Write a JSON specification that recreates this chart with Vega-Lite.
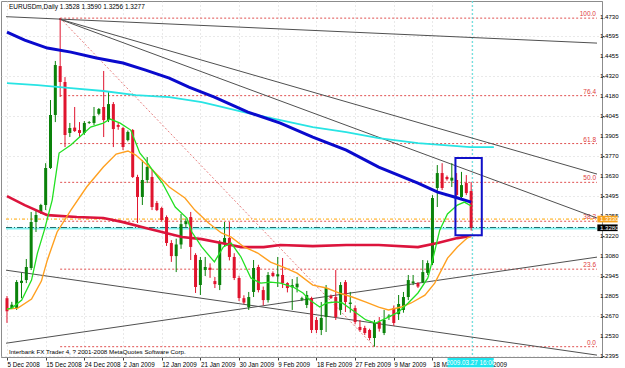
{
  "$schema": "https://vega.github.io/schema/vega-lite/v6.json",
  "width": 601,
  "height": 356,
  "autosize": {"type": "none"},
  "padding": {"left": 1, "top": 1, "right": 23, "bottom": 11},
  "background": "#ffffff",
  "config": {"view": {"stroke": "#8c8c8c"}, "font": "Liberation Sans", "axis": {"labelOverlap": false}},
  "datasets": {
    "candles": [
      {"i":0,"o":1.2790,"h":1.2805,"l":1.2620,"c":1.2700},
      {"i":1,"o":1.2720,"h":1.2765,"l":1.2715,"c":1.2745},
      {"i":2,"o":1.2722,"h":1.2915,"l":1.2709,"c":1.2901},
      {"i":3,"o":1.2895,"h":1.2964,"l":1.2790,"c":1.2910},
      {"i":4,"o":1.2915,"h":1.3060,"l":1.2894,"c":1.3005},
      {"i":5,"o":1.2998,"h":1.3384,"l":1.2984,"c":1.3315},
      {"i":6,"o":1.3315,"h":1.3397,"l":1.3246,"c":1.3363},
      {"i":7,"o":1.3377,"h":1.3440,"l":1.3370,"c":1.3432},
      {"i":8,"o":1.3432,"h":1.3720,"l":1.3397,"c":1.3687},
      {"i":9,"o":1.3687,"h":1.4155,"l":1.3680,"c":1.4052},
      {"i":10,"o":1.4052,"h":1.4424,"l":1.4003,"c":1.4396},
      {"i":11,"o":1.4389,"h":1.4719,"l":1.4176,"c":1.4279},
      {"i":12,"o":1.4279,"h":1.4313,"l":1.3831,"c":1.3914},
      {"i":13,"o":1.3928,"h":1.3997,"l":1.3900,"c":1.3962},
      {"i":14,"o":1.3965,"h":1.4107,"l":1.3935,"c":1.3941},
      {"i":15,"o":1.3948,"h":1.4003,"l":1.3900,"c":1.3928},
      {"i":16,"o":1.3928,"h":1.4010,"l":1.3915,"c":1.3997},
      {"i":17,"o":1.3997,"h":1.4010,"l":1.3990,"c":1.4003},
      {"i":18,"o":1.3997,"h":1.4107,"l":1.3983,"c":1.4045},
      {"i":19,"o":1.4060,"h":1.4100,"l":1.4050,"c":1.4093},
      {"i":20,"o":1.4107,"h":1.4355,"l":1.3900,"c":1.4017},
      {"i":21,"o":1.4017,"h":1.4210,"l":1.4003,"c":1.4127},
      {"i":22,"o":1.4127,"h":1.4141,"l":1.3831,"c":1.3955},
      {"i":23,"o":1.3983,"h":1.3997,"l":1.3950,"c":1.3970},
      {"i":24,"o":1.3962,"h":1.3970,"l":1.3810,"c":1.3831},
      {"i":25,"o":1.3879,"h":1.3945,"l":1.3870,"c":1.3935},
      {"i":26,"o":1.3948,"h":1.3955,"l":1.3618,"c":1.3625},
      {"i":27,"o":1.3625,"h":1.3640,"l":1.3308,"c":1.3487},
      {"i":28,"o":1.3487,"h":1.3742,"l":1.3432,"c":1.3604},
      {"i":29,"o":1.3604,"h":1.3762,"l":1.3583,"c":1.3694},
      {"i":30,"o":1.3625,"h":1.3673,"l":1.3397,"c":1.3418},
      {"i":31,"o":1.3446,"h":1.3460,"l":1.3390,"c":1.3397},
      {"i":32,"o":1.3411,"h":1.3420,"l":1.3320,"c":1.3329},
      {"i":33,"o":1.3349,"h":1.3360,"l":1.3150,"c":1.3170},
      {"i":34,"o":1.3170,"h":1.3190,"l":1.3040,"c":1.3080},
      {"i":35,"o":1.3080,"h":1.3200,"l":1.2970,"c":1.3160},
      {"i":36,"o":1.3160,"h":1.3370,"l":1.3130,"c":1.3300},
      {"i":37,"o":1.3300,"h":1.3340,"l":1.3280,"c":1.3320},
      {"i":38,"o":1.3349,"h":1.3384,"l":1.3053,"c":1.3143},
      {"i":39,"o":1.3088,"h":1.3100,"l":1.2826,"c":1.2867},
      {"i":40,"o":1.2881,"h":1.3074,"l":1.2812,"c":1.3053},
      {"i":41,"o":1.2984,"h":1.3074,"l":1.2943,"c":1.3005},
      {"i":42,"o":1.3000,"h":1.3030,"l":1.2930,"c":1.2985},
      {"i":43,"o":1.2908,"h":1.2936,"l":1.2860,"c":1.2887},
      {"i":44,"o":1.2881,"h":1.3190,"l":1.2846,"c":1.3170},
      {"i":45,"o":1.3170,"h":1.3315,"l":1.3143,"c":1.3205},
      {"i":46,"o":1.3205,"h":1.3315,"l":1.3050,"c":1.3074},
      {"i":47,"o":1.3074,"h":1.3100,"l":1.2915,"c":1.2929},
      {"i":48,"o":1.2929,"h":1.2945,"l":1.2770,"c":1.2791},
      {"i":49,"o":1.2790,"h":1.2810,"l":1.2750,"c":1.2760},
      {"i":50,"o":1.2729,"h":1.2833,"l":1.2709,"c":1.2798},
      {"i":51,"o":1.2833,"h":1.3053,"l":1.2798,"c":1.2998},
      {"i":52,"o":1.3005,"h":1.3020,"l":1.2830,"c":1.2846},
      {"i":53,"o":1.2846,"h":1.2870,"l":1.2740,"c":1.2777},
      {"i":54,"o":1.2777,"h":1.2970,"l":1.2760,"c":1.2950},
      {"i":55,"o":1.2964,"h":1.2975,"l":1.2935,"c":1.2943},
      {"i":56,"o":1.2940,"h":1.3074,"l":1.2867,"c":1.2955},
      {"i":57,"o":1.2950,"h":1.3067,"l":1.2860,"c":1.2894},
      {"i":58,"o":1.2894,"h":1.2900,"l":1.2830,"c":1.2860},
      {"i":59,"o":1.2865,"h":1.2922,"l":1.2709,"c":1.2880},
      {"i":60,"o":1.2865,"h":1.2936,"l":1.2830,"c":1.2890},
      {"i":61,"o":1.2780,"h":1.2800,"l":1.2770,"c":1.2790},
      {"i":62,"o":1.2743,"h":1.2840,"l":1.2722,"c":1.2812},
      {"i":63,"o":1.2791,"h":1.2800,"l":1.2550,"c":1.2571},
      {"i":64,"o":1.2640,"h":1.2660,"l":1.2550,"c":1.2571},
      {"i":65,"o":1.2571,"h":1.2764,"l":1.2536,"c":1.2654},
      {"i":66,"o":1.2660,"h":1.2881,"l":1.2557,"c":1.2860},
      {"i":67,"o":1.2805,"h":1.2815,"l":1.2785,"c":1.2790},
      {"i":68,"o":1.2798,"h":1.2984,"l":1.2640,"c":1.2660},
      {"i":69,"o":1.2709,"h":1.2901,"l":1.2675,"c":1.2881},
      {"i":70,"o":1.2901,"h":1.2915,"l":1.2695,"c":1.2764},
      {"i":71,"o":1.2750,"h":1.2833,"l":1.2690,"c":1.2760},
      {"i":72,"o":1.2722,"h":1.2740,"l":1.2610,"c":1.2626},
      {"i":73,"o":1.2592,"h":1.2640,"l":1.2560,"c":1.2571},
      {"i":74,"o":1.2585,"h":1.2600,"l":1.2536,"c":1.2550},
      {"i":75,"o":1.2571,"h":1.2580,"l":1.2500,"c":1.2516},
      {"i":76,"o":1.2516,"h":1.2640,"l":1.2456,"c":1.2619},
      {"i":77,"o":1.2626,"h":1.2660,"l":1.2560,"c":1.2580},
      {"i":78,"o":1.2550,"h":1.2709,"l":1.2536,"c":1.2640},
      {"i":79,"o":1.2660,"h":1.2680,"l":1.2640,"c":1.2670},
      {"i":80,"o":1.2722,"h":1.2740,"l":1.2600,"c":1.2619},
      {"i":81,"o":1.2680,"h":1.2812,"l":1.2640,"c":1.2750},
      {"i":82,"o":1.2709,"h":1.2833,"l":1.2690,"c":1.2798},
      {"i":83,"o":1.2798,"h":1.2950,"l":1.2777,"c":1.2915},
      {"i":84,"o":1.2895,"h":1.2950,"l":1.2880,"c":1.2905},
      {"i":85,"o":1.2894,"h":1.2900,"l":1.2860,"c":1.2870},
      {"i":86,"o":1.2901,"h":1.3053,"l":1.2894,"c":1.2970},
      {"i":87,"o":1.2964,"h":1.3050,"l":1.2950,"c":1.3032},
      {"i":88,"o":1.3032,"h":1.3500,"l":1.3018,"c":1.3480},
      {"i":89,"o":1.3549,"h":1.3707,"l":1.3418,"c":1.3652},
      {"i":90,"o":1.3652,"h":1.3720,"l":1.3535,"c":1.3549},
      {"i":91,"o":1.3625,"h":1.3635,"l":1.3600,"c":1.3610},
      {"i":92,"o":1.3600,"h":1.3720,"l":1.3556,"c":1.3620},
      {"i":93,"o":1.3604,"h":1.3652,"l":1.3480,"c":1.3501},
      {"i":94,"o":1.3487,"h":1.3660,"l":1.3466,"c":1.3569},
      {"i":95,"o":1.3583,"h":1.3638,"l":1.3500,"c":1.3514},
      {"i":96,"o":1.3528,"h":1.3590,"l":1.3256,"c":1.3277}
    ],
    "ma_green": [
      {"i":0,"p":1.2715},{"i":1.0,"p":1.2722},{"i":3.05,"p":1.2777},{"i":5.08,"p":1.2915},{"i":6.3,"p":1.3101},{"i":7.73,"p":1.3259},{"i":9.35,"p":1.3466},{"i":10.78,"p":1.3790},{"i":13.2,"p":1.3845},{"i":15.25,"p":1.3907},{"i":17.3,"p":1.3969},{"i":19.93,"p":1.3996},{"i":21.36,"p":1.4024},{"i":23.4,"p":1.3996},{"i":25.6,"p":1.3948},{"i":27.46,"p":1.3790},{"i":28.68,"p":1.3741},{"i":30.1,"p":1.3673},{"i":32.15,"p":1.3583},{"i":34.8,"p":1.3418},{"i":37.2,"p":1.3342},{"i":38.24,"p":1.3246},{"i":40.27,"p":1.3143},{"i":42.9,"p":1.3040},{"i":44.75,"p":1.3143},{"i":46.37,"p":1.3170},{"i":48.4,"p":1.3074},{"i":50.44,"p":1.2929},{"i":52.47,"p":1.2894},{"i":54.5,"p":1.2901},{"i":56.54,"p":1.2894},{"i":59.19,"p":1.2867},{"i":61.22,"p":1.2826},{"i":62.64,"p":1.2777},{"i":64.68,"p":1.2729},{"i":66.1,"p":1.2757},{"i":68.14,"p":1.2764},{"i":69.36,"p":1.2757},{"i":71.39,"p":1.2709},{"i":74.24,"p":1.2640},{"i":76.27,"p":1.2619},{"i":78.9,"p":1.2660},{"i":80.95,"p":1.2694},{"i":82.98,"p":1.2757},{"i":85.0,"p":1.2826},{"i":87.05,"p":1.2930},{"i":88.27,"p":1.3087},{"i":89.5,"p":1.3259},{"i":91.1,"p":1.3370},{"i":93.15,"p":1.3431},{"i":94.6,"p":1.3452},{"i":96,"p":1.3425}
    ],
    "ma_orange": [
      {"i":0,"p":1.2715},{"i":2.24,"p":1.2722},{"i":5.08,"p":1.2784},{"i":7.12,"p":1.2908},{"i":8.34,"p":1.3052},{"i":10.37,"p":1.3246},{"i":13.22,"p":1.3397},{"i":16.47,"p":1.3556},{"i":19.93,"p":1.3693},{"i":22.58,"p":1.3783},{"i":25.02,"p":1.3804},{"i":26.64,"p":1.3776},{"i":30.1,"p":1.3673},{"i":33.56,"p":1.3556},{"i":36.81,"p":1.3480},{"i":38.85,"p":1.3397},{"i":41.7,"p":1.3308},{"i":44.34,"p":1.3239},{"i":46.37,"p":1.3211},{"i":49.02,"p":1.3143},{"i":51.86,"p":1.3101},{"i":54.51,"p":1.3039},{"i":57.15,"p":1.3004},{"i":60.0,"p":1.2963},{"i":63.25,"p":1.2880},{"i":66.1,"p":1.2860},{"i":68.75,"p":1.2825},{"i":71.39,"p":1.2798},{"i":74.24,"p":1.2763},{"i":76.88,"p":1.2729},{"i":78.9,"p":1.2709},{"i":81.56,"p":1.2729},{"i":83.59,"p":1.2757},{"i":86.44,"p":1.2811},{"i":88.47,"p":1.2894},{"i":91.12,"p":1.3066},{"i":93.15,"p":1.3142},{"i":95.19,"p":1.3204},{"i":96,"p":1.3218}
    ],
    "ma_red": [
      {"i":0,"p":1.3493},{"i":3.66,"p":1.3431},{"i":8.34,"p":1.3362},{"i":14.44,"p":1.3349},{"i":19.93,"p":1.3342},{"i":24.0,"p":1.3314},{"i":28.68,"p":1.3273},{"i":36.2,"p":1.3211},{"i":40.27,"p":1.3197},{"i":44.34,"p":1.3170},{"i":48.4,"p":1.3142},{"i":53.08,"p":1.3142},{"i":56.54,"p":1.3156},{"i":63.25,"p":1.3149},{"i":70.17,"p":1.3156},{"i":76.88,"p":1.3156},{"i":85.0,"p":1.3142},{"i":89.08,"p":1.3170},{"i":93.15,"p":1.3204},{"i":96,"p":1.3218}
    ],
    "ma_blue": [
      {"i":0,"p":1.4623},{"i":3.66,"p":1.4568},{"i":8.34,"p":1.4513},{"i":13.22,"p":1.4485},{"i":18.5,"p":1.4444},{"i":24.0,"p":1.4410},{"i":28.68,"p":1.4361},{"i":33.56,"p":1.4306},{"i":37.63,"p":1.4244},{"i":42.9,"p":1.4175},{"i":49.83,"p":1.4072},{"i":56.54,"p":1.3996},{"i":63.25,"p":1.3900},{"i":70.17,"p":1.3810},{"i":76.88,"p":1.3693},{"i":85.0,"p":1.3583},{"i":89.08,"p":1.3521},{"i":92.54,"p":1.3487},{"i":96,"p":1.3452}
    ],
    "ma_cyan": [
      {"i":0,"p":1.4272},{"i":6.3,"p":1.4258},{"i":13.22,"p":1.4237},{"i":19.93,"p":1.4217},{"i":26.64,"p":1.4189},{"i":33.56,"p":1.4175},{"i":40.27,"p":1.4141},{"i":42.9,"p":1.4120},{"i":49.83,"p":1.4065},{"i":56.54,"p":1.4017},{"i":63.25,"p":1.3969},{"i":70.17,"p":1.3934},{"i":76.88,"p":1.3893},{"i":85.0,"p":1.3858},{"i":95.8,"p":1.3831},{"i":100.7,"p":1.3831}
    ],
    "trend": [
      {"id":"t1","i":-0.2,"p":1.4729},{"id":"t1","i":122.03,"p":1.4547},
      {"id":"t2","i":10.78,"p":1.4713},{"id":"t2","i":122.03,"p":1.3645},
      {"id":"t3","i":10.78,"p":1.4713},{"id":"t3","i":122.03,"p":1.3342},
      {"id":"t4","i":-0.2,"p":1.2480},{"id":"t4","i":122.03,"p":1.3073},
      {"id":"t5","i":-0.2,"p":1.2983},{"id":"t5","i":122.03,"p":1.2398}
    ],
    "fibdiag": [{"i":11,"p":1.4719},{"i":76,"p":1.2456}],
    "fib": [
      {"level":"100.0","p":1.4719},
      {"level":"76.4","p":1.4185},
      {"level":"61.8","p":1.3855},
      {"level":"50.0","p":1.3588},
      {"level":"38.2","p":1.3320},
      {"level":"23.6","p":1.2990},
      {"level":"0.0","p":1.2456}
    ],
    "yticks": [
      {"v":1.4730},{"v":1.4595},{"v":1.4455},{"v":1.4320},{"v":1.4180},{"v":1.4045},{"v":1.3905},{"v":1.3770},{"v":1.3630},{"v":1.3495},{"v":1.3355},{"v":1.3220},{"v":1.3080},{"v":1.2945},{"v":1.2805},{"v":1.2670},{"v":1.2530},{"v":1.2395}
    ]
  },
  "layer": [
    {
      "data": {"name": "fib"},
      "mark": {"type": "rule", "color": "#E05050", "strokeDash": [2, 2], "strokeWidth": 1},
      "encoding": {
        "x": {"datum": 11, "type": "quantitative", "scale": {"domain": [-0.2034, 122.03], "nice": false, "zero": false},
          "axis": {"orient": "bottom", "values": [0, 8, 16, 24, 32, 40, 48, 56, 64, 72, 80, 88, 96], "labelExpr": "datum.value == 0 ? '5 Dec 2008' : datum.value == 8 ? '15 Dec 2008' : datum.value == 16 ? '24 Dec 2008' : datum.value == 24 ? '2 Jan 2009' : datum.value == 32 ? '12 Jan 2009' : datum.value == 40 ? '21 Jan 2009' : datum.value == 48 ? '30 Jan 2009' : datum.value == 56 ? '9 Feb 2009' : datum.value == 64 ? '18 Feb 2009' : datum.value == 72 ? '27 Feb 2009' : datum.value == 80 ? '9 Mar 2009' : datum.value == 88 ? '18 Mar 2009' : '27 Mar 2009'", "labelAlign": "left", "labelFontSize": 6.3, "labelColor": "#000000", "labelPadding": 1, "labelFlush": false, "labelOverlap": false, "labelBound": false, "tickSize": 3, "tickColor": "#404040", "domainColor": "#8c8c8c", "grid": true, "gridColor": "#c8c8c8", "gridDash": [1, 3], "gridOpacity": 0.8, "title": null}},
        "x2": {"datum": 122.03},
        "y": {"field": "p", "type": "quantitative", "scale": {"domain": [1.2385, 1.4837], "nice": false, "zero": false},
          "axis": {"orient": "right", "values": [1.4730, 1.4595, 1.4455, 1.4320, 1.4180, 1.4045, 1.3905, 1.3770, 1.3630, 1.3495, 1.3355, 1.3220, 1.3080, 1.2945, 1.2805, 1.2670, 1.2530, 1.2395], "labels": false, "labelOverlap": false, "tickSize": 2, "tickColor": "#404040", "domainColor": "#8c8c8c", "grid": true, "gridColor": "#c8c8c8", "gridDash": [1, 3], "gridOpacity": 0.8, "title": null}}
      }
    },
    {
      "data": {"name": "fib"},
      "mark": {"type": "text", "color": "#E03C3C", "fontSize": 6.5, "align": "right", "baseline": "bottom", "dx": -1, "dy": -1},
      "encoding": {
        "x": {"datum": 122.03, "type": "quantitative", "scale": {"domain": [-0.2034, 122.03], "nice": false, "zero": false}},
        "y": {"field": "p", "type": "quantitative", "scale": {"domain": [1.2385, 1.4837], "nice": false, "zero": false}},
        "text": {"field": "level"}
      }
    },
    {
      "data": {"name": "fibdiag"},
      "mark": {"type": "line", "color": "#E88080", "strokeDash": [2, 2], "strokeWidth": 1},
      "encoding": {
        "x": {"field": "i", "type": "quantitative", "scale": {"domain": [-0.2034, 122.03], "nice": false, "zero": false}},
        "y": {"field": "p", "type": "quantitative", "scale": {"domain": [1.2385, 1.4837], "nice": false, "zero": false}}
      }
    },
    {
      "data": {"values": [{}]},
      "mark": {"type": "rule", "color": "#FFA500", "strokeDash": [3, 2, 1, 2], "strokeWidth": 1},
      "encoding": {
        "x": {"datum": -0.2034, "type": "quantitative", "scale": {"domain": [-0.2034, 122.03], "nice": false, "zero": false}},
        "x2": {"datum": 122.03},
        "y": {"datum": 1.3335, "type": "quantitative", "scale": {"domain": [1.2385, 1.4837], "nice": false, "zero": false}}
      }
    },
    {
      "data": {"values": [{}]},
      "mark": {"type": "rule", "color": "#80F0F0", "strokeWidth": 2},
      "encoding": {
        "x": {"datum": -0.2034, "type": "quantitative", "scale": {"domain": [-0.2034, 122.03], "nice": false, "zero": false}},
        "x2": {"datum": 122.03},
        "y": {"datum": 1.3270, "type": "quantitative", "scale": {"domain": [1.2385, 1.4837], "nice": false, "zero": false}}
      }
    },
    {
      "data": {"values": [{}]},
      "mark": {"type": "rule", "color": "#1E6E6E", "strokeDash": [6, 2, 1, 2], "strokeWidth": 1},
      "encoding": {
        "x": {"datum": -0.2034, "type": "quantitative", "scale": {"domain": [-0.2034, 122.03], "nice": false, "zero": false}},
        "x2": {"datum": 122.03},
        "y": {"datum": 1.3277, "type": "quantitative", "scale": {"domain": [1.2385, 1.4837], "nice": false, "zero": false}}
      }
    },
    {
      "data": {"values": [{}]},
      "mark": {"type": "rule", "color": "#60E0E0", "strokeDash": [2, 2], "strokeWidth": 1},
      "encoding": {
        "x": {"datum": 96.3, "type": "quantitative", "scale": {"domain": [-0.2034, 122.03], "nice": false, "zero": false}}
      }
    },
    {
      "data": {"name": "trend"},
      "mark": {"type": "line", "color": "#505050", "strokeWidth": 1},
      "encoding": {
        "x": {"field": "i", "type": "quantitative", "scale": {"domain": [-0.2034, 122.03], "nice": false, "zero": false}},
        "y": {"field": "p", "type": "quantitative", "scale": {"domain": [1.2385, 1.4837], "nice": false, "zero": false}},
        "detail": {"field": "id"}
      }
    },
    {
      "data": {"name": "candles"},
      "mark": {"type": "rule", "strokeWidth": 1},
      "encoding": {
        "x": {"field": "i", "type": "quantitative", "scale": {"domain": [-0.2034, 122.03], "nice": false, "zero": false}},
        "y": {"field": "l", "type": "quantitative", "scale": {"domain": [1.2385, 1.4837], "nice": false, "zero": false}},
        "y2": {"field": "h"},
        "color": {"condition": {"test": "datum.c >= datum.o", "value": "#0A820A"}, "value": "#E0142E"}
      }
    },
    {
      "data": {"name": "candles"},
      "mark": {"type": "bar", "width": 3},
      "encoding": {
        "x": {"field": "i", "type": "quantitative", "scale": {"domain": [-0.2034, 122.03], "nice": false, "zero": false}},
        "y": {"field": "o", "type": "quantitative", "scale": {"domain": [1.2385, 1.4837], "nice": false, "zero": false}},
        "y2": {"field": "c"},
        "color": {"condition": {"test": "datum.c >= datum.o", "value": "#0A820A"}, "value": "#E0142E"}
      }
    },
    {
      "data": {"name": "ma_cyan"},
      "mark": {"type": "line", "color": "#28E4E4", "strokeWidth": 1.8},
      "encoding": {
        "x": {"field": "i", "type": "quantitative", "scale": {"domain": [-0.2034, 122.03], "nice": false, "zero": false}},
        "y": {"field": "p", "type": "quantitative", "scale": {"domain": [1.2385, 1.4837], "nice": false, "zero": false}}
      }
    },
    {
      "data": {"name": "ma_blue"},
      "mark": {"type": "line", "color": "#0A0ACD", "strokeWidth": 3},
      "encoding": {
        "x": {"field": "i", "type": "quantitative", "scale": {"domain": [-0.2034, 122.03], "nice": false, "zero": false}},
        "y": {"field": "p", "type": "quantitative", "scale": {"domain": [1.2385, 1.4837], "nice": false, "zero": false}}
      }
    },
    {
      "data": {"name": "ma_red"},
      "mark": {"type": "line", "color": "#DC143C", "strokeWidth": 2.6},
      "encoding": {
        "x": {"field": "i", "type": "quantitative", "scale": {"domain": [-0.2034, 122.03], "nice": false, "zero": false}},
        "y": {"field": "p", "type": "quantitative", "scale": {"domain": [1.2385, 1.4837], "nice": false, "zero": false}}
      }
    },
    {
      "data": {"name": "ma_orange"},
      "mark": {"type": "line", "color": "#FFA020", "strokeWidth": 1.4},
      "encoding": {
        "x": {"field": "i", "type": "quantitative", "scale": {"domain": [-0.2034, 122.03], "nice": false, "zero": false}},
        "y": {"field": "p", "type": "quantitative", "scale": {"domain": [1.2385, 1.4837], "nice": false, "zero": false}}
      }
    },
    {
      "data": {"name": "ma_green"},
      "mark": {"type": "line", "color": "#22E022", "strokeWidth": 1.3},
      "encoding": {
        "x": {"field": "i", "type": "quantitative", "scale": {"domain": [-0.2034, 122.03], "nice": false, "zero": false}},
        "y": {"field": "p", "type": "quantitative", "scale": {"domain": [1.2385, 1.4837], "nice": false, "zero": false}}
      }
    },
    {
      "data": {"values": [{}]},
      "mark": {"type": "rect", "fill": null, "fillOpacity": 0, "stroke": "#1010C8", "strokeWidth": 2},
      "encoding": {
        "x": {"datum": 92.75, "type": "quantitative", "scale": {"domain": [-0.2034, 122.03], "nice": false, "zero": false}},
        "x2": {"datum": 98.2},
        "y": {"datum": 1.3755, "type": "quantitative", "scale": {"domain": [1.2385, 1.4837], "nice": false, "zero": false}},
        "y2": {"datum": 1.3224}
      }
    },
    {
      "data": {"values": [{}]},
      "mark": {"type": "text", "text": "EURUSDm,Daily  1.3528 1.3590 1.3256 1.3277", "fontSize": 6.5, "color": "#000000", "align": "left", "baseline": "middle"},
      "encoding": {
        "x": {"datum": 0.4, "type": "quantitative", "scale": {"domain": [-0.2034, 122.03], "nice": false, "zero": false}},
        "y": {"datum": 1.4795, "type": "quantitative", "scale": {"domain": [1.2385, 1.4837], "nice": false, "zero": false}}
      }
    },
    {
      "data": {"values": [{}]},
      "mark": {"type": "text", "text": "Interbank FX Trader 4, ? 2001-2008 MetaQuotes Software Corp.", "fontSize": 6.2, "color": "#000000", "align": "left", "baseline": "middle"},
      "encoding": {
        "x": {"datum": 0.4, "type": "quantitative", "scale": {"domain": [-0.2034, 122.03], "nice": false, "zero": false}},
        "y": {"datum": 1.2419, "type": "quantitative", "scale": {"domain": [1.2385, 1.4837], "nice": false, "zero": false}}
      }
    },
    {
      "data": {"name": "yticks"},
      "mark": {"type": "text", "fontSize": 6.1, "color": "#000000", "align": "left", "baseline": "middle", "dx": 3},
      "encoding": {
        "x": {"datum": 122.03, "type": "quantitative", "scale": {"domain": [-0.2034, 122.03], "nice": false, "zero": false}},
        "y": {"field": "v", "type": "quantitative", "scale": {"domain": [1.2385, 1.4837], "nice": false, "zero": false}},
        "text": {"field": "v", "type": "quantitative", "format": ".4f"}
      }
    },
    {
      "data": {"values": [{"lab": "1.3330", "y1": 1.3358, "y2": 1.3312, "bg": "o"}, {"lab": "1.3280", "y1": 1.3298, "y2": 1.3252, "bg": "k"}]},
      "mark": {"type": "rect"},
      "encoding": {
        "x": {"datum": 122.1, "type": "quantitative", "scale": {"domain": [-0.2034, 122.03], "nice": false, "zero": false}},
        "x2": {"datum": 126.3},
        "y": {"field": "y1", "type": "quantitative", "scale": {"domain": [1.2385, 1.4837], "nice": false, "zero": false}},
        "y2": {"field": "y2"},
        "color": {"field": "bg", "type": "nominal", "scale": {"domain": ["o", "k"], "range": ["#F7A21B", "#000000"]}, "legend": null}
      }
    },
    {
      "data": {"values": [{"lab": "1.3330", "ym": 1.3335}, {"lab": "1.3280", "ym": 1.3275}]},
      "mark": {"type": "text", "fontSize": 6.1, "color": "#ffffff", "align": "left", "baseline": "middle", "dx": 3},
      "encoding": {
        "x": {"datum": 122.03, "type": "quantitative", "scale": {"domain": [-0.2034, 122.03], "nice": false, "zero": false}},
        "y": {"field": "ym", "type": "quantitative", "scale": {"domain": [1.2385, 1.4837], "nice": false, "zero": false}},
        "text": {"field": "lab"}
      }
    },
    {
      "data": {"values": [{}]},
      "mark": {"type": "rect", "color": "#1EE6F0"},
      "encoding": {
        "x": {"datum": 91.12, "type": "quantitative", "scale": {"domain": [-0.2034, 122.03], "nice": false, "zero": false}},
        "x2": {"datum": 100.68},
        "y": {"datum": 1.2378, "type": "quantitative", "scale": {"domain": [1.2385, 1.4837], "nice": false, "zero": false}},
        "y2": {"datum": 1.2314}
      }
    },
    {
      "data": {"values": [{}]},
      "mark": {"type": "text", "text": "2009.03.27 16:00", "fontSize": 6.3, "color": "#ffffff", "align": "center", "baseline": "middle"},
      "encoding": {
        "x": {"datum": 95.9, "type": "quantitative", "scale": {"domain": [-0.2034, 122.03], "nice": false, "zero": false}},
        "y": {"datum": 1.2346, "type": "quantitative", "scale": {"domain": [1.2385, 1.4837], "nice": false, "zero": false}}
      }
    }
  ]
}
